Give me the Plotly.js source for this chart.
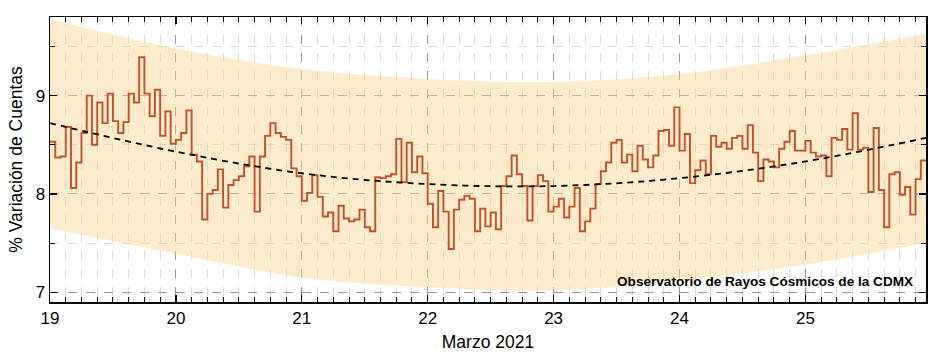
<!DOCTYPE html>
<html>
<head>
<meta charset="utf-8">
<script src="https://cdn.plot.ly/plotly-3.0.1.min.js"></script>
<style>html,body{margin:0;padding:0;background:#fff;}#chart{width:939px;height:356px;}</style>
</head>
<body>
<div id="chart"></div>
<script>
// Hourly % variation of counts, starting 19 March 2021 00:00 (one value per hour)
const startDay = 19;
const counts = [
 8.53,8.37,8.38,8.68,8.06,8.32,8.62,9.00,8.50,8.93,8.72,9.02,8.74,8.62,8.73,9.02,8.93,9.39,9.02,8.79,9.06,8.59,8.84,8.51,
 8.55,8.62,8.85,8.40,8.33,7.74,8.00,8.04,8.25,7.86,8.09,8.14,8.18,8.28,8.38,7.82,8.38,8.59,8.72,8.62,8.58,8.55,8.26,8.18,
 7.93,8.01,8.19,7.97,7.77,7.81,7.62,7.88,7.75,7.72,7.74,7.84,7.66,7.62,8.17,8.16,8.18,8.20,8.56,8.12,8.52,8.22,8.38,8.21,
 7.90,7.66,8.03,7.82,7.44,7.84,7.94,7.98,7.95,7.62,7.85,7.67,7.81,7.64,8.08,8.18,8.39,8.20,8.08,7.73,8.08,8.19,8.13,7.82,
 7.87,7.95,7.76,7.87,8.06,7.62,7.72,7.85,8.10,8.23,8.32,8.52,8.55,8.32,8.40,8.23,8.49,8.35,8.27,8.39,8.64,8.65,8.49,8.88,
 8.44,8.61,8.11,8.24,8.34,8.20,8.59,8.48,8.52,8.46,8.57,8.59,8.46,8.70,8.42,8.13,8.35,8.33,8.27,8.46,8.53,8.64,8.44,8.44,
 8.54,8.42,8.38,8.39,8.18,8.57,8.55,8.66,8.45,8.82,8.45,8.47,8.02,8.67,8.04,7.66,8.20,8.22,7.99,8.07,7.79,8.15,8.34
];
// Quadratic trend and its band, read at day marks
const trendDays  = [19, 20, 21, 22, 23, 24, 25, 25.958];
const trendValue = [8.72, 8.43, 8.21, 8.10, 8.08, 8.16, 8.33, 8.57];
const bandUpper  = [9.78, 9.48, 9.27, 9.17, 9.14, 9.22, 9.41, 9.63];
const bandLower  = [7.65, 7.39, 7.15, 7.05, 7.02, 7.12, 7.28, 7.50];
const dayTicks = [19, 20, 21, 22, 23, 24, 25];
const dayLabels = ['19', '20', '21', '22', '23', '24', '25'];
const note = 'Observatorio de Rayos Cósmicos de la CDMX';

const xs = counts.map((v, i) => startDay + i / 24);
const ys = counts.slice();
xs.push(startDay + counts.length / 24);
ys.push(counts[counts.length - 1]);

const FONT = 'Liberation Sans, Arial, sans-serif';
const traces = [
  {x: trendDays, y: bandLower, mode: 'lines', line: {width: 0, shape: 'spline'}, hoverinfo: 'skip', showlegend: false},
  {x: trendDays, y: bandUpper, mode: 'lines', line: {width: 0, shape: 'spline'}, fill: 'tonexty',
   fillcolor: 'rgba(250,212,140,0.45)', hoverinfo: 'skip', showlegend: false},
  {x: xs, y: ys, mode: 'lines', line: {color: '#c4502b', width: 1.9, shape: 'hv'}, showlegend: false},
  {x: trendDays, y: trendValue, mode: 'lines', line: {color: '#000', width: 1.8, dash: '6px,5px', shape: 'spline'}, showlegend: false}
];

const layout = {
  width: 939, height: 356,
  margin: {l: 50, r: 13, t: 17, b: 54},
  paper_bgcolor: '#fff', plot_bgcolor: '#fff',
  font: {family: FONT, size: 17, color: '#000'},
  showlegend: false,
  xaxis: {
    range: [19, 25.958], tickvals: dayTicks, ticktext: dayLabels,
    showline: true, linecolor: '#000', linewidth: 1.5, mirror: 'allticks',
    ticks: 'inside', ticklen: 7, tickwidth: 1.2, tickcolor: '#000',
    showgrid: true, gridcolor: 'rgba(110,110,110,0.6)', griddash: 'dash', gridwidth: 1,
    zeroline: false,
    minor: {dtick: 0.125, tick0: 19, ticks: 'inside', ticklen: 5, tickwidth: 1, tickcolor: '#000',
            showgrid: true, gridcolor: 'rgba(150,150,150,0.35)', griddash: 'dash', gridwidth: 1},
    title: {text: 'Marzo 2021', font: {family: FONT, size: 17.5}, standoff: 9},
    tickfont: {family: FONT, size: 17}
  },
  yaxis: {
    range: [6.9, 9.8], tickvals: [7, 8, 9], ticktext: ['7', '8', '9'],
    showline: true, linecolor: '#000', linewidth: 1.5, mirror: 'allticks',
    ticks: 'inside', ticklen: 7, tickwidth: 1.2, tickcolor: '#000',
    showgrid: true, gridcolor: 'rgba(110,110,110,0.6)', griddash: 'dash', gridwidth: 1,
    zeroline: false,
    minor: {dtick: 0.5, tick0: 7, ticks: 'inside', ticklen: 5, tickwidth: 1, tickcolor: '#000',
            showgrid: true, gridcolor: 'rgba(150,150,150,0.35)', griddash: 'dash', gridwidth: 1},
    title: {text: '% Variación de Cuentas', font: {family: FONT, size: 17.5}, standoff: 8},
    tickfont: {family: FONT, size: 17}
  },
  annotations: [{
    xref: 'paper', yref: 'paper', x: 0.987, y: 0.072, xanchor: 'right', yanchor: 'middle',
    text: '<b>' + note + '</b>', showarrow: false, font: {family: FONT, size: 13.6, color: '#000'}
  }]
};

Plotly.newPlot('chart', traces, layout, {displayModeBar: false, staticPlot: true});
</script>
</body>
</html>
